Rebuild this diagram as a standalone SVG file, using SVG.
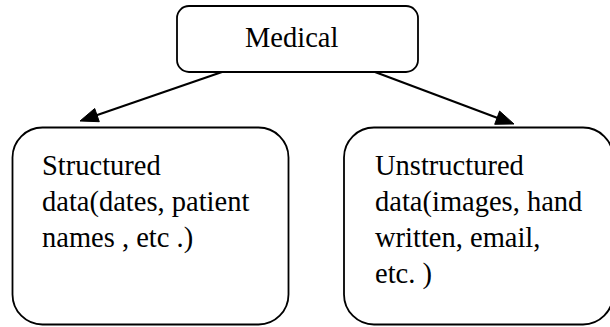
<svg xmlns="http://www.w3.org/2000/svg" width="610" height="327" viewBox="0 0 610 327">
  <style>
    .box { fill: #ffffff; stroke: #000000; stroke-width: 1.8; }
    .label { font-family: "Liberation Serif", "Times New Roman", serif; font-size: 28.5px; fill: #000000; }
    .edge { stroke: #000000; stroke-width: 2.2; fill: none; }
    .head { fill: #000000; stroke: #000000; stroke-width: 1; stroke-linejoin: miter; }
  </style>
  <rect width="610" height="327" fill="#ffffff" />

  <g id="connectors">
    <line class="edge" x1="222" y1="72" x2="90" y2="117.5" />
    <path class="head" d="M80,121 L99.3,121.7 L94.7,108.5 Z" />
    <line class="edge" x1="375" y1="72" x2="503" y2="120" />
    <path class="head" d="M514,124 L494.7,124.3 L499.6,111.1 Z" />
  </g>

  <g id="medical">
    <rect class="box" x="177" y="6" width="241" height="66" rx="12" />
    <text class="label" x="245" y="47">Medical</text>
  </g>

  <g id="structured">
    <rect class="box" x="12.5" y="127.5" width="276" height="197" rx="30" />
    <text class="label">
      <tspan x="42" y="175">Structured</tspan>
      <tspan x="42" y="211">data(dates, patient</tspan>
      <tspan x="42" y="247">names , etc .)</tspan>
    </text>
  </g>

  <g id="unstructured">
    <rect class="box" x="344" y="127.5" width="269" height="197" rx="30" />
    <text class="label">
      <tspan x="375" y="175">Unstructured</tspan>
      <tspan x="375" y="211">data(images, hand</tspan>
      <tspan x="375" y="247">written, email,</tspan>
      <tspan x="375" y="283">etc. )</tspan>
    </text>
  </g>
</svg>
